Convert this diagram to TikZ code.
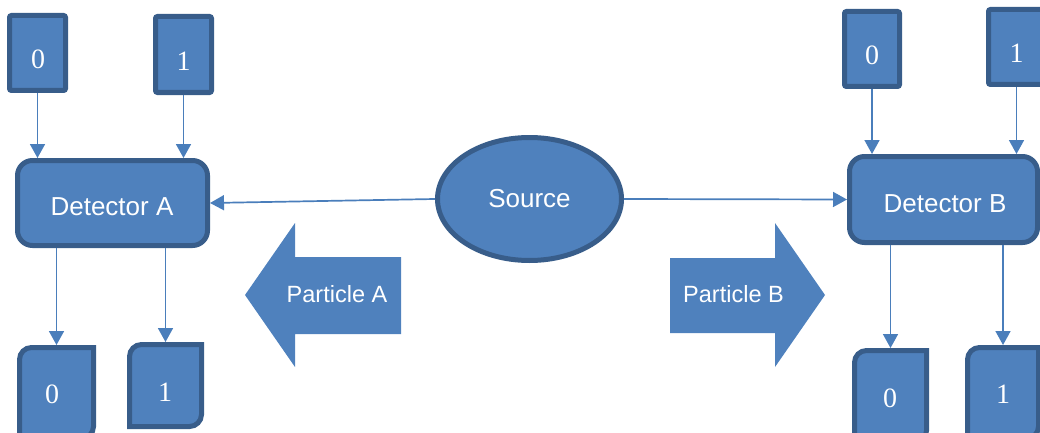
\documentclass[tikz,border=0pt]{standalone}
\usepackage{fontspec}
\setmainfont{Liberation Sans}
\newfontfamily\serifdig{Liberation Serif}
\usetikzlibrary{arrows.meta,shapes.geometric}
\definecolor{blu}{HTML}{4F81BD}
\definecolor{bord}{HTML}{385D8A}
\definecolor{conn}{HTML}{4A7EBB}
\tikzset{
  topbox/.style={draw=bord, fill=blu, line width=5pt, rounded corners=2pt, inner sep=0pt, outer sep=2.5pt},
  anchorbox/.style={inner sep=0pt, outer sep=2.5pt},
  detbox/.style={draw=bord, fill=blu, line width=5pt, rounded corners=15pt, inner sep=0pt, outer sep=2.5pt},
  boxline/.style={draw=bord, fill=blu, line width=5pt},
  digit/.style={text=white, font=\serifdig\fontsize{28}{28}\selectfont, inner sep=0pt},
  bigtext/.style={text=white, font=\fontsize{26}{26}\selectfont, inner sep=0pt},
  parttext/.style={text=white, font=\fontsize{23.5}{23.5}\selectfont, inner sep=0pt},
  connector/.style={draw=conn, line width=1.7pt, -{Triangle[length=14pt,width=15pt]}}
}
\newcommand{\rdbox}[4]{%
  \draw[boxline] (#1,#4-12) arc[start angle=180,end angle=90,radius=12] -- (#3,#4) -- (#3,#2+12) arc[start angle=0,end angle=-90,radius=12] -- (#1,#2) -- cycle;}
\begin{document}
\begin{tikzpicture}[x=1pt,y=1pt]
\useasboundingbox (0,0) rectangle (1040,432);
\clip (0,0) rectangle (1040,432);

% top boxes
\node[topbox, minimum width=56pt, minimum height=75pt] (tl0) at (37.5,379) {};
\node[topbox, minimum width=56pt, minimum height=76pt] (tl1) at (183.5,377.5) {};
\node[topbox, minimum width=55pt, minimum height=75pt] (tr0) at (872,383) {};
\node[topbox, minimum width=56pt, minimum height=75pt] (tr1) at (1016.5,385) {};
\node[digit] (tl0t) at (38,373) {0};
\node[digit] (tl1t) at (183.5,371) {1};
\node[digit] (tr0t) at (872,377) {0};
\node[digit] (tr1t) at (1016.5,379) {1};

% detectors
\node[detbox, minimum width=190pt, minimum height=85pt] (DA) at (112.5,229) {};
\node[detbox, minimum width=188pt, minimum height=86pt] (DB) at (943.5,232.5) {};
\node[bigtext] (DAt) at (112,225) {Detector A};
\node[bigtext] (DBt) at (945,228) {Detector B};

% source
\node[ellipse, draw=bord, fill=blu, line width=5pt, minimum width=184pt, minimum height=123pt, inner sep=0pt, outer sep=2.5pt, text=white, font=\fontsize{26}{26}\selectfont] (S) at (529.5,233) {Source};

% bottom boxes
\rdbox{19.5}{-6.5}{93.5}{84.5}
\rdbox{129.5}{5.5}{201.5}{87.5}
\rdbox{854.5}{-10.5}{926.5}{81.5}
\rdbox{967.5}{-6.5}{1038.5}{84.5}
\node[anchorbox, minimum width=74pt, minimum height=91pt] (bl0) at (56.5,39) {};
\node[anchorbox, minimum width=72pt, minimum height=82pt] (bl1) at (165.5,46.5) {};
\node[anchorbox, minimum width=72pt, minimum height=92pt] (br0) at (890.5,35.5) {};
\node[anchorbox, minimum width=71pt, minimum height=91pt] (br1) at (1003,39) {};
\node[digit] (bl0t) at (52,38) {0};
\node[digit] (bl1t) at (165,40) {1};
\node[digit] (br0t) at (890,34) {0};
\node[digit] (br1t) at (1003,38) {1};

% particle arrows
\fill[blu] (245,137) -- (295,209) -- (295,175) -- (401,175) -- (401,98) -- (295,98) -- (295,65) -- cycle;
\fill[blu] (670,174) -- (775,174) -- (775,209) -- (825,137) -- (775,65) -- (775,99) -- (670,99) -- cycle;
\node[parttext] (PA) at (337,138) {Particle A};
\node[parttext] (PB) at (733.5,138) {Particle B};

% connectors
\draw[connector] (S.west) -- (DA.east);
\draw[connector] (S.east) -- (DB.west);
\draw[connector] (tl0.south) -- (tl0.south |- DA.north);
\draw[connector] (tl1.south) -- (tl1.south |- DA.north);
\draw[connector] (tr0.south) -- (tr0.south |- DB.north);
\draw[connector] (tr1.south) -- (tr1.south |- DB.north);
\draw[connector] (bl0.north |- DA.south) -- (bl0.north);
\draw[connector] (bl1.north |- DA.south) -- (bl1.north);
\draw[connector] (br0.north |- DB.south) -- (br0.north);
\draw[connector] (br1.north |- DB.south) -- (br1.north);
\end{tikzpicture}
\end{document}
